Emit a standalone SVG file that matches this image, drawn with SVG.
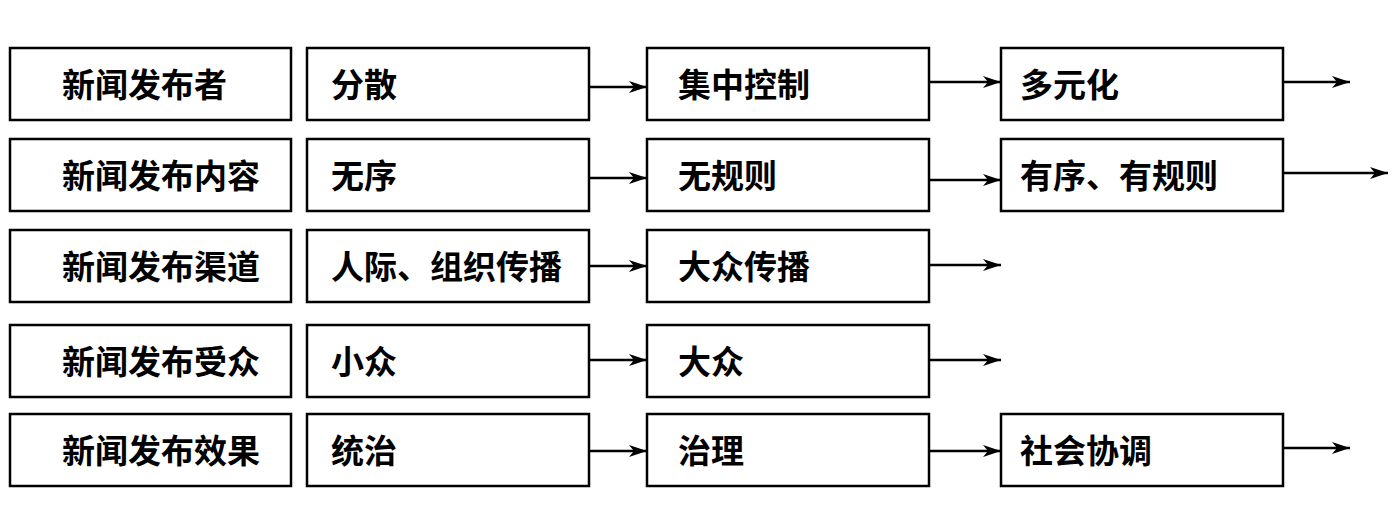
<svg xmlns="http://www.w3.org/2000/svg" width="1400" height="531" viewBox="0 0 1400 531">
<style>
.box{fill:#fff;stroke:#000;stroke-width:2.5}
.t{font-family:"Liberation Serif","Noto Sans CJK SC",serif;font-size:33px;font-weight:bold;fill:#000}
.c{stroke:#000;stroke-width:2.5;fill:none;marker-end:url(#ah)}
</style>
<defs>
<marker id="ah" viewBox="0 0 18 12" refX="18" refY="6" markerWidth="18" markerHeight="12" markerUnits="userSpaceOnUse" orient="auto">
<path d="M0,0 L18,6 L0,12 L5,6 Z" fill="#000"/>
</marker>
</defs>
<rect width="1400" height="531" fill="#fff"/>
<g id="r1c1"><rect class="box" x="10" y="48" width="281" height="72"/><text class="t" x="62" y="97">新闻发布者</text></g>
<g id="r1c2"><rect class="box" x="307" y="48" width="282" height="72"/><text class="t" x="331" y="97">分散</text></g>
<g id="r1c3"><rect class="box" x="647" y="48" width="282" height="72"/><text class="t" x="678" y="97">集中控制</text></g>
<g id="r1c4"><rect class="box" x="1001" y="48" width="282" height="72"/><text class="t" x="1020" y="97">多元化</text></g>
<g id="r2c1"><rect class="box" x="10" y="139" width="281" height="72"/><text class="t" x="62" y="188">新闻发布内容</text></g>
<g id="r2c2"><rect class="box" x="307" y="139" width="282" height="72"/><text class="t" x="331" y="188">无序</text></g>
<g id="r2c3"><rect class="box" x="647" y="139" width="282" height="72"/><text class="t" x="678" y="188">无规则</text></g>
<g id="r2c4"><rect class="box" x="1001" y="139" width="282" height="72"/><text class="t" x="1020" y="188">有序、有规则</text></g>
<g id="r3c1"><rect class="box" x="10" y="230" width="281" height="72"/><text class="t" x="62" y="279">新闻发布渠道</text></g>
<g id="r3c2"><rect class="box" x="307" y="230" width="282" height="72"/><text class="t" x="331" y="279">人际、组织传播</text></g>
<g id="r3c3"><rect class="box" x="647" y="230" width="282" height="72"/><text class="t" x="678" y="279">大众传播</text></g>
<g id="r4c1"><rect class="box" x="10" y="325" width="281" height="72"/><text class="t" x="62" y="374">新闻发布受众</text></g>
<g id="r4c2"><rect class="box" x="307" y="325" width="282" height="72"/><text class="t" x="331" y="374">小众</text></g>
<g id="r4c3"><rect class="box" x="647" y="325" width="282" height="72"/><text class="t" x="678" y="374">大众</text></g>
<g id="r5c1"><rect class="box" x="10" y="414" width="281" height="72"/><text class="t" x="62" y="463">新闻发布效果</text></g>
<g id="r5c2"><rect class="box" x="307" y="414" width="282" height="72"/><text class="t" x="331" y="463">统治</text></g>
<g id="r5c3"><rect class="box" x="647" y="414" width="282" height="72"/><text class="t" x="678" y="463">治理</text></g>
<g id="r5c4"><rect class="box" x="1001" y="414" width="282" height="72"/><text class="t" x="1020" y="463">社会协调</text></g>
<g id="connectors">
<line class="c" x1="589" y1="87" x2="647" y2="87"/>
<line class="c" x1="929" y1="82" x2="1001" y2="82"/>
<line class="c" x1="1283" y1="82" x2="1350" y2="82"/>
<line class="c" x1="589" y1="178" x2="647" y2="178"/>
<line class="c" x1="929" y1="180" x2="1001" y2="180"/>
<line class="c" x1="1283" y1="173" x2="1388" y2="173"/>
<line class="c" x1="589" y1="266" x2="647" y2="266"/>
<line class="c" x1="929" y1="265" x2="1001" y2="265"/>
<line class="c" x1="589" y1="360" x2="647" y2="360"/>
<line class="c" x1="929" y1="360" x2="1001" y2="360"/>
<line class="c" x1="589" y1="451" x2="647" y2="451"/>
<line class="c" x1="929" y1="451" x2="1001" y2="451"/>
<line class="c" x1="1283" y1="448" x2="1350" y2="448"/>
</g>
</svg>
